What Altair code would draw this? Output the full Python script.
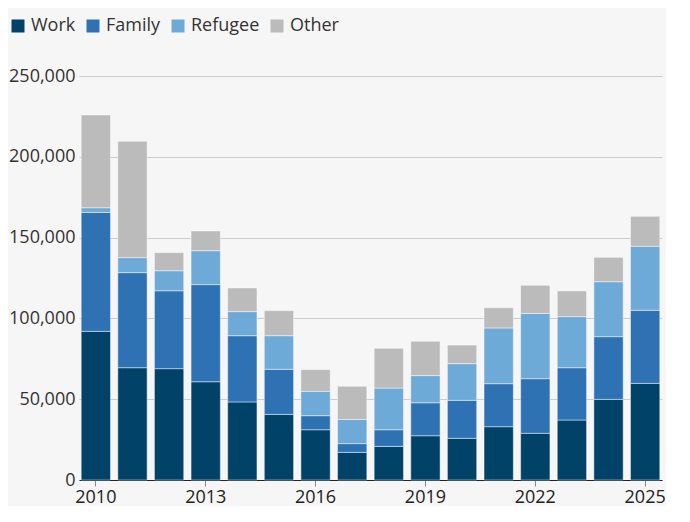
import altair as alt
import pandas as pd

years = list(range(2010, 2026))
categories = ["Work", "Family", "Refugee", "Other"]
colors = ["#004268", "#2e72b4", "#6eaad8", "#bbbbbb"]

work = [92000, 69500, 68900, 60800, 48300, 40600, 31100, 17100, 20800, 27400, 25800, 33000, 28900, 37100, 49900, 59800]
family = [73600, 58800, 48200, 60100, 41000, 27900, 8700, 5400, 10300, 20400, 23500, 26600, 33800, 32400, 38800, 45200]
refugee = [2900, 9300, 12400, 21000, 14900, 20800, 15100, 15000, 25800, 16800, 22700, 34500, 40400, 31600, 34000, 39600]
other = [57400, 72000, 11200, 12200, 14600, 15500, 13400, 20500, 24600, 21200, 11500, 12500, 17400, 15900, 15100, 18600]

series = {"Work": work, "Family": family, "Refugee": refugee, "Other": other}
rows = []
for i, cat in enumerate(categories):
    for y, v in zip(years, series[cat]):
        rows.append({"year": y, "category": cat, "value": v, "order": i})
df = pd.DataFrame(rows)

FONT = "Open Sans"

chart = alt.Chart(df).mark_bar(
    stroke="#ffffff", strokeWidth=1, strokeOpacity=0.45
).encode(
    x=alt.X("year:O", title=None,
            scale=alt.Scale(paddingInner=0.2, paddingOuter=0.06),
            axis=alt.Axis(values=[2010, 2013, 2016, 2019, 2022, 2025],
                          labelAngle=0, labelFont=FONT, labelFontSize=18,
                          labelColor="#222222", tickColor="#888888", tickSize=6,
                          domainColor="#222222", domainWidth=1.2, labelPadding=2,
                          grid=False)),
    y=alt.Y("value:Q", title=None, stack="zero",
            scale=alt.Scale(domain=[0, 250000], nice=False),
            axis=alt.Axis(values=[0, 50000, 100000, 150000, 200000, 250000],
                          format=",d", labelFont=FONT, labelFontSize=18,
                          labelColor="#333333", ticks=False, domain=False,
                          gridColor="#cccccc", gridWidth=1, labelPadding=4)),
    color=alt.Color("category:N", title=None,
                    scale=alt.Scale(domain=categories, range=colors),
                    legend=alt.Legend(orient="none", direction="horizontal",
                                      legendX=-70, legendY=-59,
                                      symbolType="square", symbolSize=169,
                                      symbolStrokeWidth=0, symbolOpacity=1,
                                      labelFont=FONT, labelFontSize=18,
                                      labelColor="#333333", labelOffset=4,
                                      columnPadding=8, padding=0)),
    order=alt.Order("order:Q", sort="ascending"),
).properties(
    width=583, height=404,
    background="#f6f6f6",
    padding={"left": 0, "top": 9, "right": 0, "bottom": 0},
).configure_view(stroke=None)

chart.save("out.html", embed_options={"renderer": "svg", "actions": False})
